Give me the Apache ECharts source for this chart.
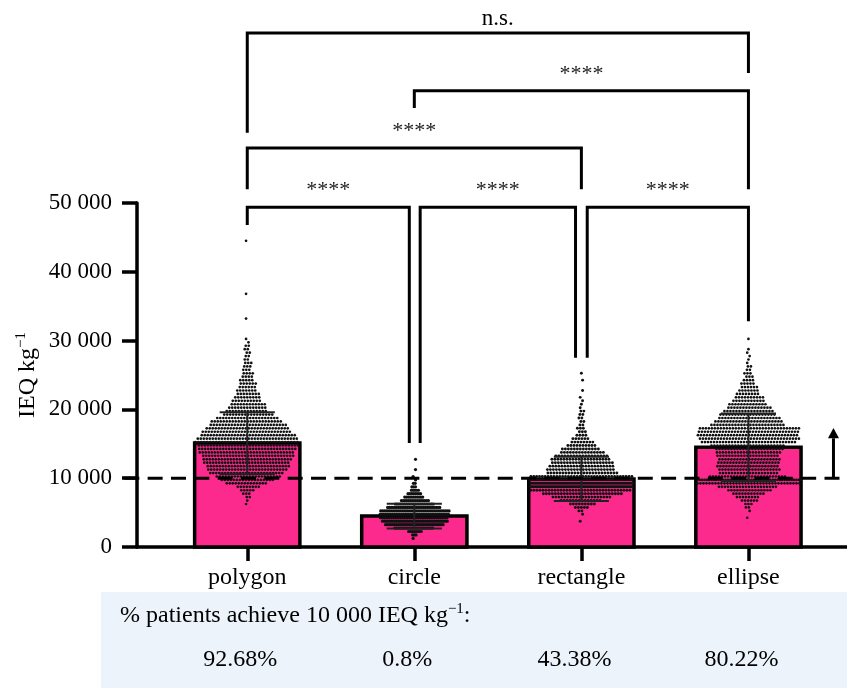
<!DOCTYPE html>
<html>
<head>
<meta charset="utf-8">
<script src="https://cdn.jsdelivr.net/npm/echarts@6/dist/echarts.min.js"></script>
<style>
  html, body { margin: 0; padding: 0; background: #fff; }
  #chart { width: 847px; height: 688px; }
</style>
</head>
<body>
<div id="chart"></div>
<script>
const categories = ['polygon', 'circle', 'rectangle', 'ellipse']
const barMeans = [15100, 4500, 9900, 14500]
const barSD = [4500, 1800, 3200, 4900]
const achievePct = ['92.68%', '0.8%', '43.38%', '80.22%']
const threshold = 10000

// swarm: dot counts per 500 IEQ band, starting at bandStart
const bandSize = 500
const bandStart = [6000, 1000, 3500, 4000]
const polygonCounts = [1, 1, 2, 3, 5, 8, 14, 18, 22, 25, 27, 28, 29, 30, 31, 32, 33, 34, 35, 34, 32, 30, 28, 26, 24, 21, 17, 14, 13, 12, 10, 9, 8, 7, 6, 6, 5, 4, 4, 3, 3, 3, 2, 2, 2, 2, 2, 1, 1]
const circleCounts = [1, 3, 8, 22, 33, 37, 38, 39, 39, 30, 22, 16, 11, 8, 5, 3, 2, 1, 1, 0, 1, 0, 0, 1]
const rectangleCounts = [1, 0, 1, 2, 5, 9, 14, 20, 27, 34, 60, 70, 72, 36, 24, 23, 22, 21, 20, 18, 15, 13, 10, 8, 6, 4, 3, 3, 2, 2, 2, 2, 2, 1, 1, 1, 1, 0, 1, 0, 0, 1, 0, 1]
const ellipseCounts = [1, 0, 1, 2, 3, 6, 8, 11, 15, 20, 35, 45, 26, 20, 21, 21, 21, 21, 21, 22, 23, 25, 32, 34, 34, 34, 34, 25, 23, 21, 19, 17, 15, 13, 11, 10, 8, 7, 6, 5, 4, 3, 3, 2, 2, 1, 1, 1, 1, 1, 0, 0, 1]
const polygonOutliers = [33200, 36800, 44500]

// significance brackets: [x1, x2, level, leg1 bottom, leg2 bottom, label]
const brackets = [
  [0, 0.97, 49400, 46800, 15100, '****'],
  [1.035, 1.965, 49400, 15100, 27500, '****'],
  [2.035, 3, 49400, 27500, 32800, '****'],
  [0, 2, 58000, 52000, 52000, '****'],
  [1, 3, 66300, 63800, 52000, '****'],
  [0, 3, 74700, 60200, 68900, 'n.s.'],
]

const FONT = "'Liberation Serif', 'DejaVu Serif', serif"
const PINK = '#fc2a8c'
const barWidth = 0.63      // in category units
const capWidth = 0.33
const dotGap = [3, 1.8, 3, 3]
const dotRadius = [1.35, 1.6, 1.45, 1.35]
const swarmWidth = [106, 72, 104, 106]

// one item per dot: [cat, value, index in row, row size, row number]
const allCounts = [polygonCounts, circleCounts, rectangleCounts, ellipseCounts]
const dots = []
allCounts.forEach((counts, cat) => {
  const rows = counts.map((n, i) => [bandStart[cat] + i * bandSize + bandSize / 2, n, i])
  if (cat === 0) polygonOutliers.forEach(v => rows.push([v, 1, 0]))
  rows.forEach(([v, n, r]) => {
    for (let k = 0; k < n; k++) dots.push([cat, v, k, n, r])
  })
})

const chart = echarts.init(document.getElementById('chart'))

const supRich = size => ({
  a: { fontSize: size, fontFamily: FONT, fill: '#000', lineHeight: size + 4 },
  s: { fontSize: 15, fontFamily: FONT, fill: '#000', lineHeight: 15, verticalAlign: 'top' },
})

chart.setOption({
  animation: false,
  grid: { left: 137, right: 0, top: 203, bottom: 141 },
  xAxis: {
    type: 'value', min: -0.66, max: 3.59,
    splitLine: { show: false },
    axisLine: { show: true, onZero: false, lineStyle: { color: '#000', width: 3.5 } },
    axisTick: { show: true, customValues: [0, 1, 2, 3], length: 14, lineStyle: { color: '#000', width: 3.5 } },
    axisLabel: {
      customValues: [0, 1, 2, 3], margin: 19,
      formatter: v => categories[Math.round(v)] || '',
      color: '#000', fontSize: 24, fontFamily: FONT,
    },
  },
  yAxis: {
    type: 'value', min: 0, max: 50000, interval: 10000,
    splitLine: { show: false },
    axisLine: { show: true, onZero: false, lineStyle: { color: '#000', width: 3.5 } },
    axisTick: { show: true, length: 15, lineStyle: { color: '#000', width: 3.5 } },
    axisLabel: {
      margin: 25, color: '#000', fontSize: 23, fontFamily: FONT,
      formatter: v => String(v).replace(/\B(?=(\d{3})+(?!\d))/g, ' '),
    },
  },
  graphic: [
    { type: 'rect', z: -1, shape: { x: 101, y: 592, width: 746, height: 96 }, style: { fill: '#ecf3fb' } },
    {
      type: 'text', x: 120, y: 616,
      style: { text: '{a|% patients achieve 10 000 IEQ kg}{s|−1}{a|:}', verticalAlign: 'middle', rich: supRich(24) },
    },
    {
      type: 'text', x: 28, y: 375, rotation: Math.PI / 2,
      style: { text: '{a|IEQ kg}{s|−1}', align: 'center', verticalAlign: 'middle', rich: supRich(24) },
    },
  ],
  series: [
    {
      // bars
      type: 'custom', z: 2,
      data: barMeans.map((m, i) => [i, m]),
      renderItem: (params, api) => {
        const p0 = api.coord([api.value(0), 0])
        const p1 = api.coord([api.value(0), api.value(1)])
        const w = api.size([barWidth, 0])[0]
        return {
          type: 'rect',
          shape: { x: p0[0] - w / 2, y: p1[1], width: w, height: p0[1] - p1[1] },
          style: { fill: PINK, stroke: '#000', lineWidth: 3.5 },
        }
      },
    },
    {
      // beeswarm dots
      type: 'custom', z: 3,
      data: dots,
      renderItem: (params, api) => {
        const cat = api.value(0), k = api.value(2), n = api.value(3), row = api.value(4)
        const p = api.coord([cat, api.value(1)])
        const s = Math.min(dotGap[cat], swarmWidth[cat] / n)
        const shift = n > 1 ? ((row % 3) - 1) * s / 3 : ((row % 3) - 1) * 1.2
        return {
          type: 'circle',
          shape: { cx: p[0] + (k - (n - 1) / 2) * s + shift, cy: p[1], r: dotRadius[cat] },
          style: { fill: '#111' },
        }
      },
    },
    {
      // mean ± SD
      type: 'custom', z: 4,
      data: barMeans.map((m, i) => [i, m, barSD[i]]),
      renderItem: (params, api) => {
        const c = api.value(0), m = api.value(1), sd = api.value(2)
        const hi = api.coord([c, m + sd]), lo = api.coord([c, m - sd])
        const hw = api.size([capWidth, 0])[0] / 2
        const st = { stroke: '#222', lineWidth: 2 }
        return {
          type: 'group',
          children: [
            { type: 'line', shape: { x1: hi[0], y1: hi[1], x2: lo[0], y2: lo[1] }, style: st },
            { type: 'line', shape: { x1: hi[0] - hw, y1: hi[1], x2: hi[0] + hw, y2: hi[1] }, style: st },
            { type: 'line', shape: { x1: lo[0] - hw, y1: lo[1], x2: lo[0] + hw, y2: lo[1] }, style: st },
          ],
        }
      },
    },
    {
      // threshold line, arrow, brackets and percentages
      type: 'custom', z: 5, clip: false,
      data: [[0, 0]],
      renderItem: (params, api) => {
        const children = []
        const a = api.coord([-0.736, threshold]), b = api.coord([3.545, threshold])
        children.push({
          type: 'line', shape: { x1: a[0], y1: a[1], x2: b[0], y2: b[1] },
          style: { stroke: '#000', lineWidth: 3, lineDash: [15, 8.34] },
        })
        const s0 = api.coord([3.509, threshold]), s1 = api.coord([3.509, 15800]), tip = api.coord([3.509, 17300])
        children.push({ type: 'line', shape: { x1: s0[0], y1: s0[1], x2: s1[0], y2: s1[1] }, style: { stroke: '#000', lineWidth: 3 } })
        children.push({
          type: 'polygon',
          shape: { points: [[s1[0] - 5.5, s1[1]], [s1[0] + 5.5, s1[1]], [tip[0], tip[1]]] },
          style: { fill: '#000' },
        })
        brackets.forEach(([x1, x2, lvl, b1, b2, label]) => {
          const pts = [api.coord([x1, b1]), api.coord([x1, lvl]), api.coord([x2, lvl]), api.coord([x2, b2])]
          children.push({ type: 'polyline', shape: { points: pts }, style: { stroke: '#000', lineWidth: 3, fill: null, lineJoin: 'miter' } })
          const mid = api.coord([(x1 + x2) / 2, lvl])
          const ns = label === 'n.s.'
          children.push({
            type: 'text',
            style: {
              text: label, x: mid[0], y: mid[1] - (ns ? 14 : 17), align: 'center', verticalAlign: 'middle',
              fill: ns ? '#000' : '#222', fontSize: ns ? 23 : 22, fontFamily: FONT,
            },
          })
        })
        achievePct.forEach((t, i) => {
          const p = api.coord([i, 0])
          children.push({
            type: 'text',
            style: { text: t, x: p[0] - 7, y: 660, align: 'center', verticalAlign: 'middle', fill: '#000', fontSize: 24, fontFamily: FONT },
          })
        })
        return { type: 'group', children }
      },
    },
  ],
})
</script>
</body>
</html>
